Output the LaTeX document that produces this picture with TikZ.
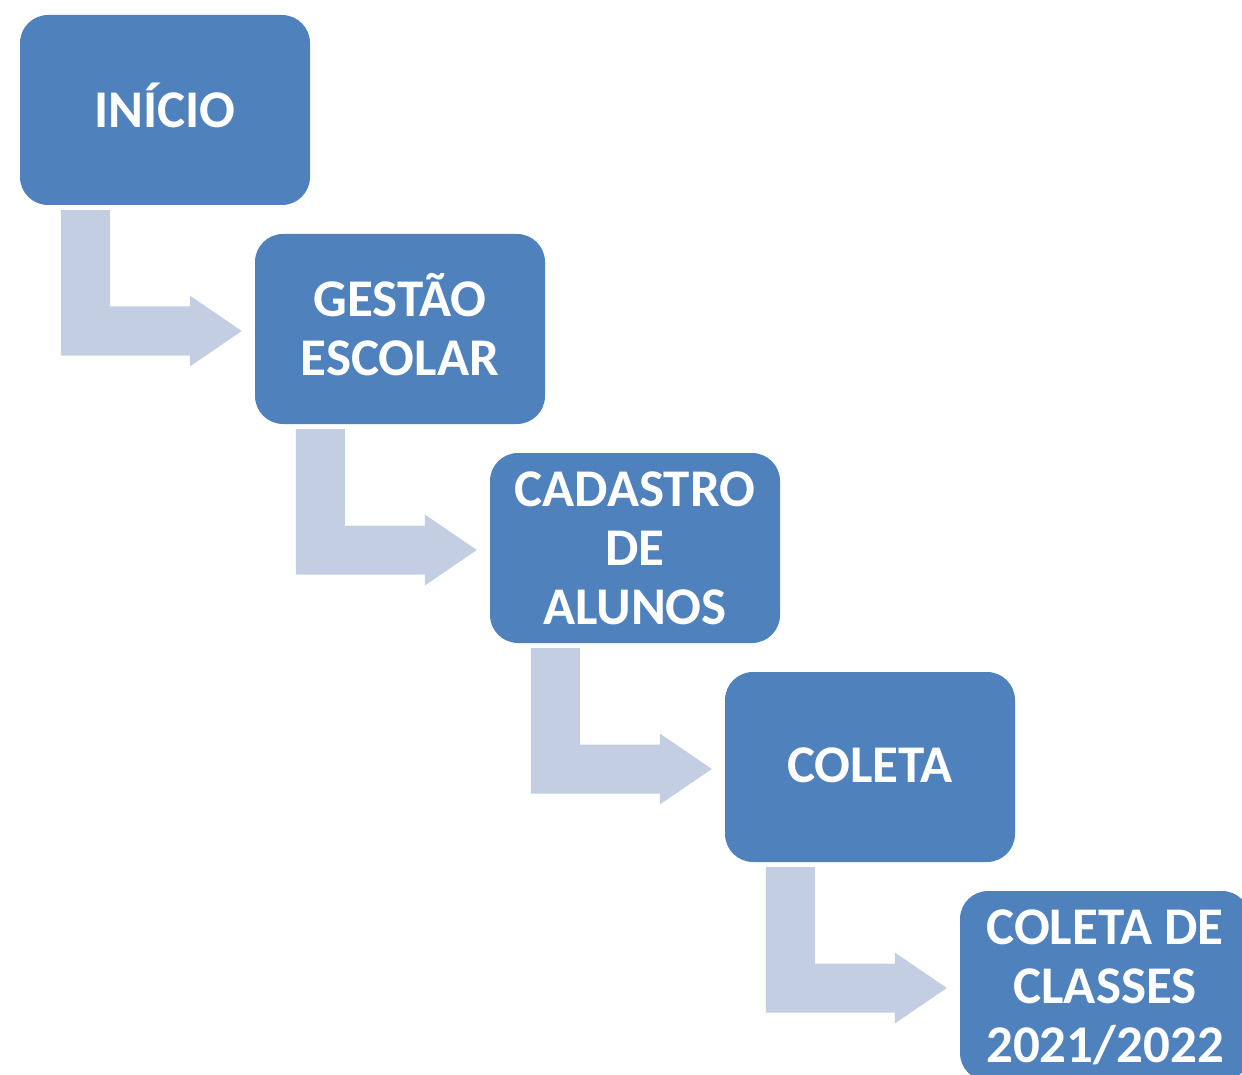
\documentclass[tikz,border=0pt]{standalone}
\usepackage{fontspec}
\setmainfont{Carlito}
\usepackage{xcolor}
\usetikzlibrary{positioning,calc}

\definecolor{boxblue}{RGB}{79,129,189}
\definecolor{arrowgray}{RGB}{195,206,226}

\tikzset{
    stepbox/.style={fill=boxblue, rounded corners=28pt, minimum width=290pt,
        minimum height=190pt, inner sep=0pt, text=white, align=center,
        text depth=10pt, font=\bfseries\fontsize{53}{59}\selectfont},
    bentarrow/.style={fill=arrowgray}
}

\begin{document}
\begin{tikzpicture}[x=1pt, y=-1pt]
    \useasboundingbox (0,0) rectangle (1242,1075);
    \clip (0,0) rectangle (1242,1075);

    % Steps
    \node[stepbox] (inicio)   at (165,110)    {INÍCIO};
    \node[stepbox] (gestao)   at (400,329)    {GESTÃO\\ESCOLAR};
    \node[stepbox, text depth=0pt] (cadastro) at (635,548) {CADASTRO\\DE\\ALUNOS};
    \node[stepbox, text depth=4pt] (coleta)   at (870,767) {COLETA};
    \node[stepbox, text depth=0pt] (classes)  at (1105,986) {COLETA DE\\CLASSES\\2021/2022};

    % Bent arrows between steps
    \foreach \a/\b in {inicio/gestao, gestao/cadastro, cadastro/coleta, coleta/classes} {
        \coordinate (p) at ($(\a.south west)+(41,5)$);
        \coordinate (q) at ($(\b.west)+(-13,2)$);
        \fill[bentarrow] (p) -- ++(49,0) |- ($(q)+(-52,-24.5)$) -- ++(0,-11)
            -- (q) -- ++(-52,35.5) -- ++(0,-11) -| (p) -- cycle;
    }
\end{tikzpicture}
\end{document}
